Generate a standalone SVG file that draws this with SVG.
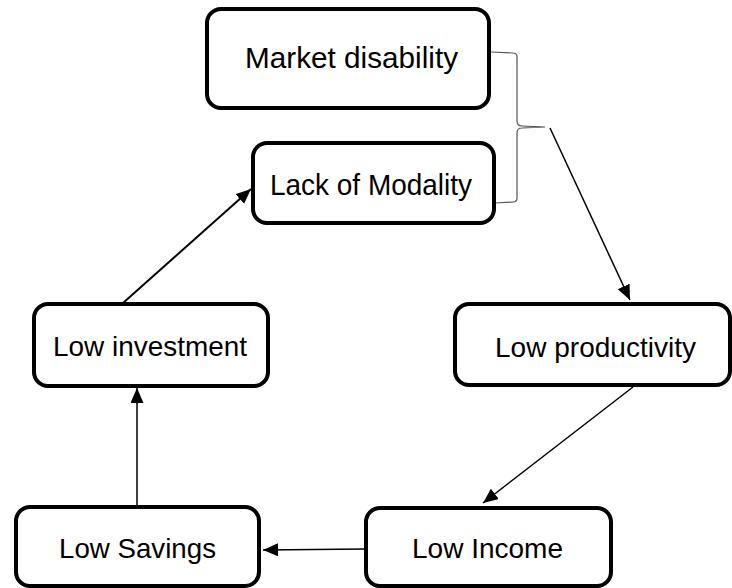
<svg xmlns="http://www.w3.org/2000/svg" width="732" height="588" viewBox="0 0 732 588">
<style>
.box{fill:#fff;stroke:#000;stroke-width:4}
.lbl{font-family:"Liberation Sans",Arial,sans-serif;fill:#000;text-anchor:start}
.top{font-size:29px}
.low{font-size:28px}
.conn{stroke:#000;stroke-width:1.5;fill:none}
.brace{stroke:#555;stroke-width:1.2;fill:none}
</style>
<defs>
<marker id="ah" markerUnits="userSpaceOnUse" markerWidth="18" markerHeight="16" refX="15" refY="6.5" orient="auto">
<path d="M0,0 L15,6.5 L0,13 Z" fill="#000"/>
</marker>
</defs>
<rect width="732" height="588" fill="#fff"/>
<g id="connectors">
<path class="brace" d="M491,52 L513,53 Q517,53 517,57 L517,121 Q517,126 522,126 L545,127 M545,127 L522,128 Q517,128 517,133 L517,198 Q517,202 513,202 L495,203"/>
<line class="conn" x1="550" y1="128" x2="630" y2="300" marker-end="url(#ah)"/>
<line class="conn" x1="633" y1="387" x2="483" y2="503" marker-end="url(#ah)"/>
<line class="conn" x1="365" y1="549" x2="263" y2="550" marker-end="url(#ah)"/>
<line class="conn" x1="137" y1="505" x2="137" y2="388" marker-end="url(#ah)"/>
<line class="conn" style="stroke-width:2" x1="123" y1="303" x2="251" y2="189" marker-end="url(#ah)"/>
</g>
<g id="market-disability">
<rect class="box" x="207" y="9" width="282" height="99" rx="14"/>
<text class="lbl top" x="245" y="68" textLength="213" lengthAdjust="spacingAndGlyphs">Market disability</text>
</g>
<g id="lack-of-modality">
<rect class="box" x="253" y="143" width="241" height="80" rx="14"/>
<text class="lbl top" x="270" y="195" textLength="202" lengthAdjust="spacingAndGlyphs">Lack of Modality</text>
</g>
<g id="low-productivity">
<rect class="box" x="455" y="304" width="275" height="81" rx="14"/>
<text class="lbl low" x="495" y="357" textLength="201" lengthAdjust="spacingAndGlyphs">Low productivity</text>
</g>
<g id="low-investment">
<rect class="box" x="34" y="304" width="234" height="82" rx="14"/>
<text class="lbl low" x="53" y="356" textLength="194" lengthAdjust="spacingAndGlyphs">Low investment</text>
</g>
<g id="low-savings">
<rect class="box" x="16" y="507" width="243" height="79" rx="14"/>
<text class="lbl low" x="59" y="558" textLength="157" lengthAdjust="spacingAndGlyphs">Low Savings</text>
</g>
<g id="low-income">
<rect class="box" x="366" y="508" width="245" height="78" rx="14"/>
<text class="lbl low" x="412" y="558" textLength="151" lengthAdjust="spacingAndGlyphs">Low Income</text>
</g>
</svg>
